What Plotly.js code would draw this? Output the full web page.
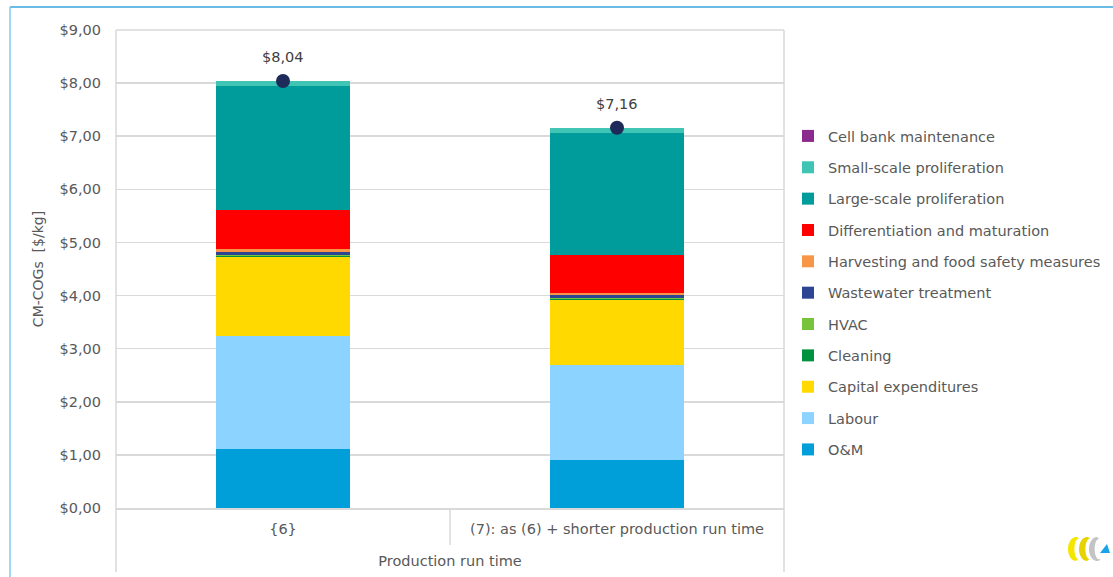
<!DOCTYPE html>
<html>
<head>
<meta charset="utf-8">
<script src="https://cdn.plot.ly/plotly-3.0.1.min.js"></script>
<style>html,body{margin:0;padding:0;background:#fff;}#chart{width:1113px;height:577px;}</style>
</head>
<body>
<div id="chart"></div>
<script>
// ---- data ----
const categories = ["{6}", "(7): as (6) + shorter production run time"];
const groupLabel = "Production run time";
const seriesNames = ["O&M", "Labour", "Capital expenditures", "Cleaning", "HVAC", "Wastewater treatment",
  "Harvesting and food safety measures", "Differentiation and maturation", "Large-scale proliferation",
  "Small-scale proliferation", "Cell bank maintenance"];
const oAndM = [1.11, 0.90];
const labour = [2.13, 1.79];
const capex = [1.49, 1.23];
const cleaning = [0.02, 0.02];
const hvac = [0.005, 0.005];
const wastewater = [0.07, 0.06];
const harvesting = [0.05, 0.05];
const differentiation = [0.73, 0.70];
const largeScale = [2.34, 2.30];
const smallScale = [0.09, 0.10];
const cellBank = [0.005, 0.005];
const yTickVals = [0, 1, 2, 3, 4, 5, 6, 7, 8, 9];
const yTickText = yTickVals.map(v => "$" + v.toFixed(2).replace(".", ","));

const seriesValues = [oAndM, labour, capex, cleaning, hvac, wastewater, harvesting, differentiation, largeScale, smallScale, cellBank];
const colors = ["#009FDA", "#8DD3FF", "#FFD900", "#00923F", "#77C33A", "#2E4593", "#F79646", "#FF0000", "#009B9B", "#40C4B4", "#8B2A8E"];

const totals = categories.map((c, i) => seriesValues.reduce((s, arr) => s + arr[i], 0));

const W = 1113, H = 577;
const M = {l: 116, r: 329, t: 30, b: 69, autoexpand: false};
const PW = W - M.l - M.r, PH = H - M.t - M.b;
const px = x => (x - M.l) / PW;
const py = y => (H - M.b - y) / PH;

const font = "DejaVu Sans, sans-serif";
const grey = "#595959";
const FS = 14.5;

const traces = seriesNames.map((name, k) => ({
  type: "bar",
  name: name,
  x: categories,
  y: seriesValues[k],
  marker: {color: colors[k], line: {width: 0}},
  legendgroup: "g" + k,
  legendrank: seriesNames.length - k,
  hoverinfo: "name+y"
}));

traces.push({
  type: "scatter",
  mode: "markers",
  x: categories,
  y: totals,
  marker: {color: "#1E2A5A", size: 14},
  showlegend: false,
  cliponaxis: false
});

const annotations = categories.map((c, i) => ({
  x: c, y: totals[i], xref: "x", yref: "y",
  text: "$" + totals[i].toFixed(2).replace(".", ","),
  showarrow: false, yshift: 24,
  font: {family: font, size: FS, color: "#404040"}
}));

const lineGrey = {color: "#D9D9D9", width: 1.5};
const shapes = [
  {type: "line", xref: "paper", yref: "paper", x0: 0, x1: 1, y0: 1, y1: 1, line: lineGrey},
  {type: "line", xref: "paper", yref: "paper", x0: 0, x1: 0, y0: 1, y1: py(572), line: lineGrey},
  {type: "line", xref: "paper", yref: "paper", x0: 1, x1: 1, y0: 1, y1: py(572), line: lineGrey},
  {type: "line", xref: "paper", yref: "paper", x0: 0.5, x1: 0.5, y0: 0, y1: py(545), line: lineGrey},
  {type: "line", xref: "paper", yref: "paper", x0: px(10), x1: px(1113), y0: py(7), y1: py(7), line: {color: "#3AA6DC", width: 1.5}},
  {type: "line", xref: "paper", yref: "paper", x0: px(10), x1: px(10), y0: py(7), y1: py(577), line: {color: "#7FCBEA", width: 1.5}}
];

// small logo (decorative)
function pth(points) {
  return "M" + points.map(p => px(p[0]).toFixed(4) + "," + py(p[1]).toFixed(4)).join("L") + "Z";
}
function arcPts(cx, cy, rx, ry, a0, a1, n) {
  const pts = [];
  for (let i = 0; i <= n; i++) {
    const a = a0 + (a1 - a0) * i / n;
    pts.push([cx + rx * Math.cos(a), cy + ry * Math.sin(a)]);
  }
  return pts;
}
function ring(cx, cy, rx, ry, t, a0, a1) {
  const outer = arcPts(cx, cy, rx, ry, a0, a1, 24);
  const inner = arcPts(cx + t * 0.6, cy, rx - t, ry - t * 0.5, a1, a0, 24);
  return pth(outer.concat(inner));
}
shapes.push({type: "path", xref: "paper", yref: "paper", path: ring(1076, 549, 8, 12, 4, Math.PI * 0.5, Math.PI * 1.55), fillcolor: "#F5E600", line: {width: 0}});
shapes.push({type: "path", xref: "paper", yref: "paper", path: ring(1087, 549, 8, 12, 4, Math.PI * 0.5, Math.PI * 1.55), fillcolor: "#E6D300", line: {width: 0}});
shapes.push({type: "path", xref: "paper", yref: "paper", path: ring(1097, 549, 8, 12, 3.5, Math.PI * 0.4, Math.PI * 1.5), fillcolor: "#C4C4C4", line: {width: 0}});
shapes.push({type: "path", xref: "paper", yref: "paper", path: pth([[1100, 553], [1110, 553], [1107, 544]]), fillcolor: "#1AA3E8", line: {width: 0}});

const layout = {
  width: W, height: H,
  margin: M,
  paper_bgcolor: "#ffffff",
  plot_bgcolor: "#ffffff",
  barmode: "stack",
  bargap: 0.6,
  font: {family: font, size: FS, color: grey},
  showlegend: true,
  legend: {
    x: px(788), y: py(120), xanchor: "left", yanchor: "top",
    traceorder: "grouped",
    tracegroupgap: 9.5,
    font: {family: font, size: FS, color: grey},
    bgcolor: "rgba(0,0,0,0)"
  },
  xaxis: {
    type: "category",
    range: [-0.5, 1.5],
    showline: true, linecolor: "#D9D9D9", linewidth: 1.5,
    ticks: "", showgrid: false,
    ticklabelstandoff: 7,
    tickfont: {family: font, size: FS, color: grey},
    title: {text: groupLabel, font: {family: font, size: FS, color: grey}, standoff: 20},
    fixedrange: true
  },
  yaxis: {
    range: [0, 9],
    tickvals: yTickVals,
    ticktext: yTickText,
    showgrid: true, gridcolor: "#D9D9D9", gridwidth: 1.5,
    zeroline: false,
    ticks: "",
    ticklabelstandoff: 14,
    tickfont: {family: font, size: FS, color: grey},
    title: {text: "CM-COGs  [$/kg]", font: {family: font, size: 14, color: grey}, standoff: 12},
    fixedrange: true
  },
  annotations: annotations,
  shapes: shapes
};

Plotly.newPlot("chart", traces, layout, {displayModeBar: false, staticPlot: true});
</script>
</body>
</html>
